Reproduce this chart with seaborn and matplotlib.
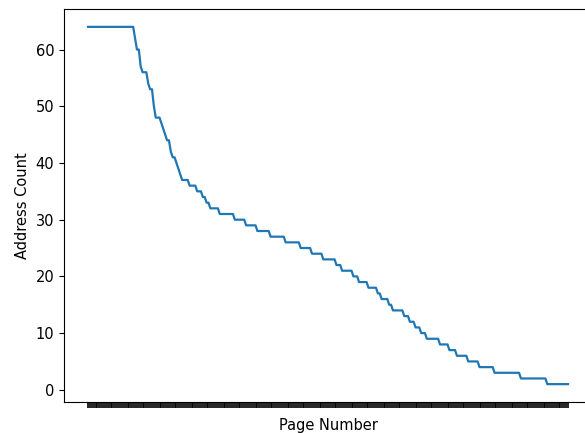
import numpy as np
import pandas as pd
import matplotlib
matplotlib.use("Agg")
import matplotlib.pyplot as plt
import seaborn as sns

# Address count per page, sorted descending, stored as run-length pairs:
# each level holds for the given number of consecutive pages.
levels = [64, 62, 60, 57, 56, 54, 53, 50, 48,
          47, 46, 45, 44, 42, 41, 40, 39, 38, 37,
          36, 35, 34, 33, 32, 31, 30, 29, 28, 27,
          26, 25, 24, 23, 22, 21, 20, 19, 18, 17,
          16, 15, 14, 13, 12, 11, 10, 9, 8, 7,
          6, 5, 4, 3, 2, 1]
run_lengths = [25, 1, 2, 1, 3, 1, 2, 1, 3,
               1, 1, 1, 2, 1, 2, 1, 1, 1, 4,
               4, 3, 2, 2, 5, 8, 6, 6, 7, 8,
               8, 6, 6, 7, 3, 6, 3, 5, 5, 2,
               4, 2, 6, 3, 3, 3, 3, 7, 5, 4,
               6, 6, 8, 14, 14, 12]

counts = np.repeat(levels, run_lengths)
pages = np.arange(len(counts))
df = pd.DataFrame({"Page Number": pages, "Address Count": counts})

plt.rcParams["font.size"] = 10.5

W, H = 585, 433
fig = plt.figure(figsize=(W / 100, H / 100), dpi=100)
ax = fig.add_axes([64 / W, 1 - 402 / H, (592 - 64) / W, (402 - 9) / H])

sns.lineplot(data=df, x="Page Number", y="Address Count", ax=ax,
             color="#1f77b4", linewidth=1.6)

# one tick per page, no labels
ax.set_xticks(pages)
ax.set_xticklabels([])
ax.tick_params(axis="x", width=1.2, length=4, color="black")
ax.set_yticks([0, 10, 20, 30, 40, 50, 60])
ax.set_xlabel("Page Number")
ax.set_ylabel("Address Count")

fig.savefig("out.png", dpi=100)
